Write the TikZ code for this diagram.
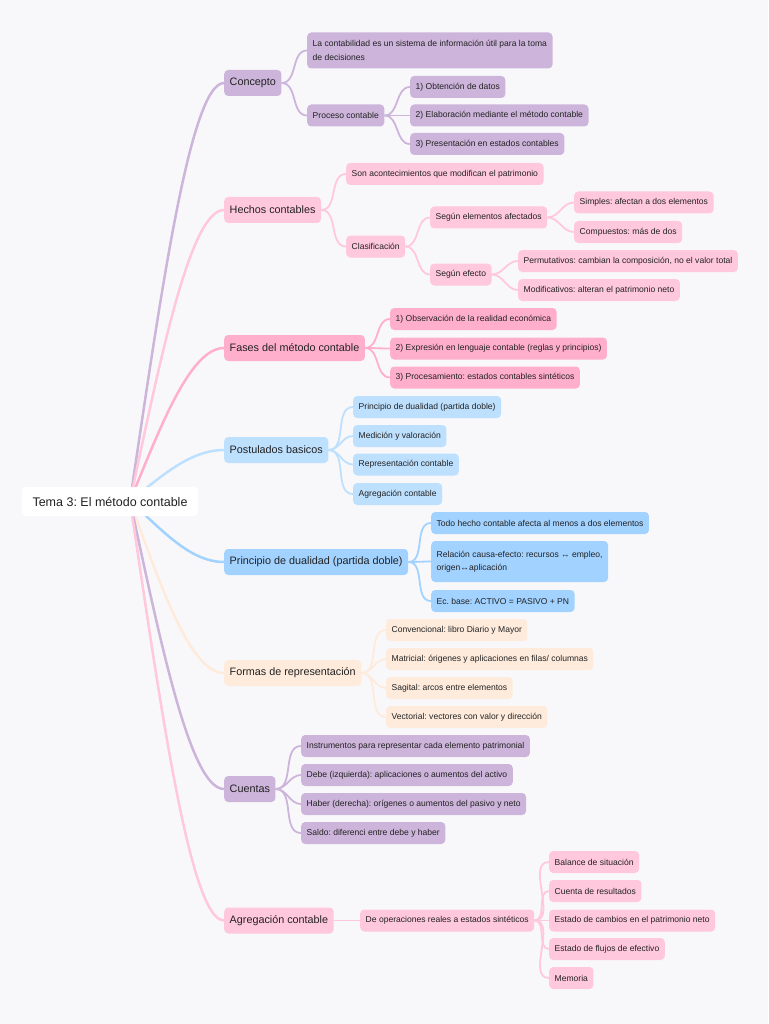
\documentclass[tikz,border=0pt]{standalone}
\usepackage{fontspec}
\setmainfont{Liberation Sans}
\frenchspacing
\definecolor{cP}{HTML}{CDB4DB}
\definecolor{cK}{HTML}{FFC8DD}
\definecolor{cR}{HTML}{FFAFCC}
\definecolor{cB}{HTML}{BDE0FE}
\definecolor{cD}{HTML}{A2D2FF}
\definecolor{cO}{HTML}{FEEBDC}
\definecolor{bgc}{HTML}{F8F8FA}
\definecolor{txt}{HTML}{222222}
\pgfdeclarelayer{bg}
\pgfsetlayers{bg,main}
\newcommand\mmlink[3]{\draw[sl,#1] (#2.east) to[out=0,in=180] (#3.west);}
\newcommand\mmroot[3]{\draw[ml,#1] (rc) .. controls #3 .. (#2.west);}
\tikzset{
 base/.style={rounded corners=4pt, inner xsep=5.5pt, inner ysep=0pt, text=txt, anchor=west},
 sub/.style={base, minimum height=22pt, font=\fontsize{8.55}{13.5}\selectfont},
 two/.style={minimum height=36pt, align=left},
 main/.style={base, minimum height=26pt, font=\fontsize{10.8}{12}\selectfont},
 sl/.style={line width=1.8pt},
 ml/.style={line width=2.5pt},
}
\begin{document}
\begin{tikzpicture}[x=1pt,y=-1pt]
\useasboundingbox (0,0) rectangle (768,1024);
\coordinate (rc) at (130,501);
% nodes
\node[base, fill=white, anchor=center, minimum width=176pt, minimum height=29pt, font=\fontsize{12.5}{14}\selectfont] (root) at (110,501.5) {Tema 3: El método contable};
\node[main, fill=cP] (n1) at (224,83) {Concepto};
\node[sub, two, fill=cP] (n1a) at (307,50.5) {La contabilidad es un sistema de información útil para la toma\\de decisiones};
\node[sub, fill=cP] (n1b) at (307,115.5) {Proceso contable};
\node[sub, fill=cP] (n1b1) at (410,87) {1) Obtención de datos};
\node[sub, fill=cP] (n1b2) at (410,115.5) {2) Elaboración mediante el método contable};
\node[sub, fill=cP] (n1b3) at (410,144) {3) Presentación en estados contables};
\node[main, fill=cK] (n2) at (224,210) {Hechos contables};
\node[sub, fill=cK] (n2a) at (346,174) {Son acontecimientos que modifican el patrimonio};
\node[sub, fill=cK] (n2b) at (346,246.5) {Clasificación};
\node[sub, fill=cK] (n2b1) at (430,217.5) {Según elementos afectados};
\node[sub, fill=cK] (n2b1a) at (574,202.5) {Simples: afectan a dos elementos};
\node[sub, fill=cK] (n2b1b) at (574,232) {Compuestos: más de dos};
\node[sub, fill=cK] (n2b2) at (430,274.5) {Según efecto};
\node[sub, fill=cK] (n2b2a) at (518,261) {Permutativos: cambian la composición, no el valor total};
\node[sub, fill=cK] (n2b2b) at (518,290) {Modificativos: alteran el patrimonio neto};
\node[main, fill=cR] (n3) at (224,348) {Fases del método contable};
\node[sub, fill=cR] (n3a) at (390,319) {1) Observación de la realidad económica};
\node[sub, fill=cR] (n3b) at (390,348.5) {2) Expresión en lenguaje contable (reglas y principios)};
\node[sub, fill=cR] (n3c) at (390,377.5) {3) Procesamiento: estados contables sintéticos};
\node[main, fill=cB] (n4) at (224,450) {Postulados basicos};
\node[sub, fill=cB] (n4a) at (353,407) {Principio de dualidad (partida doble)};
\node[sub, fill=cB] (n4b) at (353,436) {Medición y valoración};
\node[sub, fill=cB] (n4c) at (353,464.5) {Representación contable};
\node[sub, fill=cB] (n4d) at (353,494) {Agregación contable};
\node[main, fill=cD] (n5) at (224,562) {Principio de dualidad (partida doble)};
\node[sub, fill=cD] (n5a) at (431,523) {Todo hecho contable afecta al menos a dos elementos};
\node[sub, two, fill=cD, minimum height=41pt] (n5b) at (431,561.5) {Relación causa-efecto: recursos ↔ empleo,\\origen↔aplicación};
\node[sub, fill=cD] (n5c) at (431,601) {Ec. base: ACTIVO = PASIVO + PN};
\node[main, fill=cO] (n6) at (224,673) {Formas de representación};
\node[sub, fill=cO] (n6a) at (386,630) {Convencional: libro Diario y Mayor};
\node[sub, fill=cO] (n6b) at (386,659) {Matricial: órigenes y aplicaciones en filas/ columnas};
\node[sub, fill=cO] (n6c) at (386,688) {Sagital: arcos entre elementos};
\node[sub, fill=cO] (n6d) at (386,717) {Vectorial: vectores con valor y dirección};
\node[main, fill=cP] (n7) at (224,789) {Cuentas};
\node[sub, fill=cP] (n7a) at (301,746) {Instrumentos para representar cada elemento patrimonial};
\node[sub, fill=cP] (n7b) at (301,775) {Debe (izquierda): aplicaciones o aumentos del activo};
\node[sub, fill=cP] (n7c) at (301,804) {Haber (derecha): orígenes o aumentos del pasivo y neto};
\node[sub, fill=cP] (n7d) at (301,833) {Saldo: diferenci entre debe y haber};
\node[main, fill=cK] (n8) at (224,920.5) {Agregación contable};
\node[sub, fill=cK] (n8a) at (360,920.5) {De operaciones reales a estados sintéticos};
\node[sub, fill=cK] (n8a1) at (549,862) {Balance de situación};
\node[sub, fill=cK] (n8a2) at (549,891) {Cuenta de resultados};
\node[sub, fill=cK] (n8a3) at (549,920.5) {Estado de cambios en el patrimonio neto};
\node[sub, fill=cK] (n8a4) at (549,949) {Estado de flujos de efectivo};
\node[sub, fill=cK] (n8a5) at (549,978) {Memoria};
% background and connectors
\begin{pgfonlayer}{bg}
\fill[bgc] (0,0) rectangle (768,1024);
\mmroot{cP}{n1}{(160,300) and (190,83)}
\mmroot{cK}{n2}{(160,361) and (190,210)}
\mmroot{cR}{n3}{(160,428) and (190,348)}
\mmroot{cB}{n4}{(162,476) and (190,450)}
\mmroot{cD}{n5}{(162,530) and (190,562)}
\mmroot{cO}{n6}{(160,584) and (190,673)}
\mmroot{cP}{n7}{(160,639) and (190,789)}
\mmroot{cK}{n8}{(160,702) and (190,920.5)}
\mmlink{cP}{n1}{n1a}
\mmlink{cP}{n1}{n1b}
\mmlink{cP}{n1b}{n1b1}
\mmlink{cP}{n1b}{n1b2}
\mmlink{cP}{n1b}{n1b3}
\mmlink{cK}{n2}{n2a}
\mmlink{cK}{n2}{n2b}
\mmlink{cK}{n2b}{n2b1}
\mmlink{cK}{n2b}{n2b2}
\mmlink{cK}{n2b1}{n2b1a}
\mmlink{cK}{n2b1}{n2b1b}
\mmlink{cK}{n2b2}{n2b2a}
\mmlink{cK}{n2b2}{n2b2b}
\mmlink{cR}{n3}{n3a}
\mmlink{cR}{n3}{n3b}
\mmlink{cR}{n3}{n3c}
\mmlink{cB}{n4}{n4a}
\mmlink{cB}{n4}{n4b}
\mmlink{cB}{n4}{n4c}
\mmlink{cB}{n4}{n4d}
\mmlink{cD}{n5}{n5a}
\mmlink{cD}{n5}{n5b}
\mmlink{cD}{n5}{n5c}
\mmlink{cO}{n6}{n6a}
\mmlink{cO}{n6}{n6b}
\mmlink{cO}{n6}{n6c}
\mmlink{cO}{n6}{n6d}
\mmlink{cP}{n7}{n7a}
\mmlink{cP}{n7}{n7b}
\mmlink{cP}{n7}{n7c}
\mmlink{cP}{n7}{n7d}
\mmlink{cK}{n8}{n8a}
\mmlink{cK}{n8a}{n8a1}
\mmlink{cK}{n8a}{n8a2}
\mmlink{cK}{n8a}{n8a3}
\mmlink{cK}{n8a}{n8a4}
\mmlink{cK}{n8a}{n8a5}
\end{pgfonlayer}
\end{tikzpicture}
\end{document}
